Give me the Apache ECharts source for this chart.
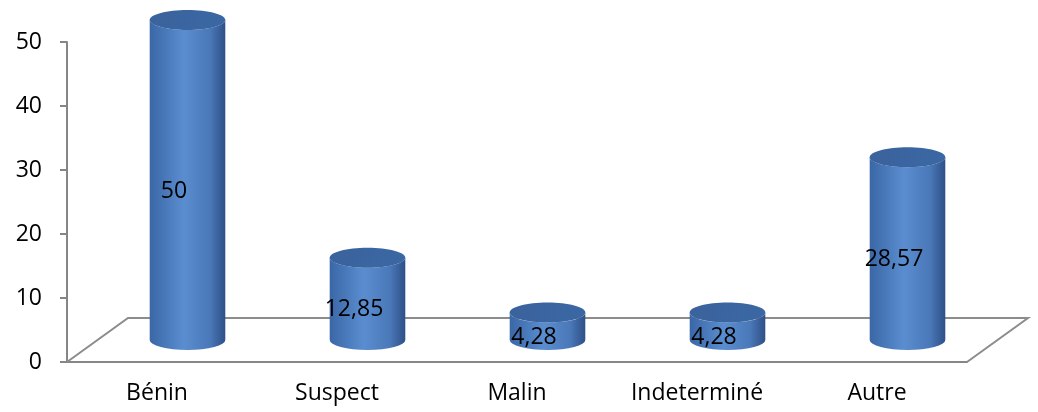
<!DOCTYPE html>
<html>
<head>
<meta charset="utf-8">
<script src="https://cdn.jsdelivr.net/npm/echarts@6/dist/echarts.min.js"></script>
<style>
  html, body { margin: 0; padding: 0; background: #fff; }
  #chart { width: 1038px; height: 412px; }
</style>
</head>
<body>
<div id="chart"></div>
<script>
var categories = ["Bénin", "Suspect", "Malin", "Indeterminé", "Autre"];
var values = [50, 12.85, 4.28, 4.28, 28.57];
var yTicks = [0, 10, 20, 30, 40, 50];

// depth of the 3d floor, and where the cylinders sit in it
var DEPTH_X = 61, DEPTH_Y = -44;
var FONT = "'Open Sans', sans-serif";
var FS = 23;

var myChart = echarts.init(document.getElementById("chart"));

function fmt(v) {
  return String(v).replace(".", ",");
}

var bodyColor = new echarts.graphic.LinearGradient(0, 0, 1, 0, [
  { offset: 0, color: "#3a67a6" },
  { offset: 0.45, color: "#5a8dd0" },
  { offset: 0.8, color: "#4a78b8" },
  { offset: 1, color: "#2e5086" }
]);
var topColor = new echarts.graphic.LinearGradient(0, 0, 1, 1, [
  { offset: 0, color: "#3b629c" },
  { offset: 1, color: "#3a68a4" }
]);

var option = {
  animation: false,
  backgroundColor: "#fff",
  grid: {
    left: 67,
    right: 71,
    top: 42,
    bottom: 50
  },
  xAxis: {
    type: "category",
    data: categories,
    axisLine: { lineStyle: { color: "#868686", width: 2 } },
    axisTick: { length: 7, lineStyle: { color: "#868686", width: 2 } },
    axisLabel: { color: "#000", fontSize: FS, fontFamily: FONT, margin: 20 }
  },
  yAxis: {
    type: "value",
    min: yTicks[0],
    max: yTicks[yTicks.length - 1],
    interval: 10,
    splitLine: { show: false },
    axisLine: { show: true, lineStyle: { color: "#868686", width: 2 } },
    axisTick: { show: true, length: 7, lineStyle: { color: "#868686", width: 2 } },
    axisLabel: { color: "#000", fontSize: FS, fontFamily: FONT, margin: 25 }
  },
  series: [
    {
      // floor of the 3d plot
      type: "custom",
      data: [0],
      z: 1,
      silent: true,
      renderItem: function(params, api) {
        var r = params.coordSys;
        var bx = r.x, by = r.y + r.height, ex = r.x + r.width;
        return {
          type: "polyline",
          shape: {
            points: [
              [bx, by],
              [bx + DEPTH_X, by + DEPTH_Y],
              [ex + DEPTH_X, by + DEPTH_Y],
              [ex, by]
            ]
          },
          style: { stroke: "#8c8c8c", lineWidth: 2, fill: null }
        };
      }
    },
    {
      type: "custom",
      z: 3,
      renderItem: function(params, api) {
        var i = api.value(0);
        var v = api.value(1);
        var base = api.coord([i, 0]);
        var top = api.coord([i, v]);
        var mid = api.coord([i, v / 2]);
        var band = api.size([1, 0])[0];
        var cx = base[0] + DEPTH_X / 2;
        var rx = band * 0.21;
        var ry = 10;
        var yb = base[1] + DEPTH_Y / 2;
        var yt = top[1] + DEPTH_Y / 2;
        var l = cx - rx, rr = cx + rx;
        var d = "M" + l + " " + yt +
          " L" + l + " " + yb +
          " A" + rx + " " + ry + " 0 0 0 " + rr + " " + yb +
          " L" + rr + " " + yt +
          " A" + rx + " " + ry + " 0 0 1 " + l + " " + yt + " Z";
        return {
          type: "group",
          children: [
            {
              type: "path",
              shape: { pathData: d },
              style: { fill: bodyColor }
            },
            {
              type: "ellipse",
              shape: { cx: cx, cy: yt, rx: rx, ry: ry },
              style: { fill: topColor }
            },
            {
              type: "text",
              style: {
                text: fmt(v),
                x: mid[0] + 17,
                y: mid[1] - 11,
                align: "center",
                verticalAlign: "middle",
                fill: "#000",
                fontSize: FS,
                fontFamily: FONT
              },
              z2: 10
            }
          ]
        };
      },
      encode: { x: 0, y: 1 }
    }
  ]
};

// custom series needs [index, value] pairs
option.series[1].data = values.map(function(v, i) {
  return [i, v];
});

myChart.setOption(option);
</script>
</body>
</html>
